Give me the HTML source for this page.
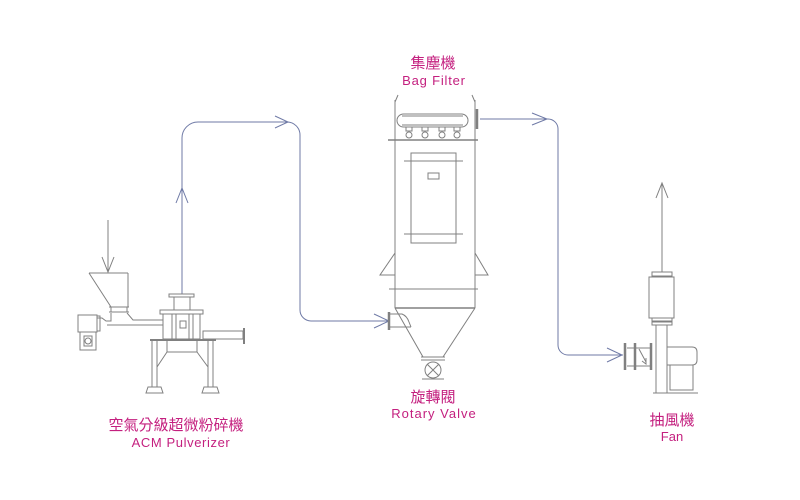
<!DOCTYPE html>
<html><head><meta charset="utf-8"><style>
html,body{margin:0;padding:0;background:#fff;width:800px;height:500px;overflow:hidden}
svg{display:block}
text{font-family:"Liberation Sans","Noto Sans CJK TC",sans-serif;fill:#c4207f}
</style></head><body>
<svg width="800" height="500" viewBox="0 0 800 500" xmlns="http://www.w3.org/2000/svg">
<rect width="800" height="500" fill="#fff"/>
<!-- connectors -->
<g fill="none" stroke="#6f7aa6" stroke-width="1">
<path d="M182,294 V138 A16,16 0 0 1 198,122 H287 A13,13 0 0 1 300,135 V310 A11,11 0 0 0 311,321 H390"/>
<path d="M176,203 L182,188 L188,203"/>
<path d="M275,116 L288,122 L275,128"/>
<path d="M374,314 L389,321 L374,328"/>
<path d="M480,119 H548 A10,10 0 0 1 558,129 V345 A10,10 0 0 0 568,355 H623"/>
<path d="M532,113 L547,119 L532,125"/>
<path d="M607,348 L622,355 L607,362"/>
</g>
<!-- equipment lines -->
<g fill="none" stroke="#808080" stroke-width="1">
<!-- feed arrow -->
<path d="M108,220 V272 M102,257 L108,272 L114,257"/>
<!-- hopper -->
<path d="M89,273 H128 M89,273 L111,307 M128,273 V307"/>
<path d="M109,307 H129 M109,312 H129 M111,307 V312 M127,307 V312"/>
<path d="M127,313 L133,320 H163 M107,325 H163"/>
<path d="M97,318 H102 L106,321 H111 V313"/>
<!-- motor -->
<rect x="78" y="315" width="19" height="17"/>
<rect x="97" y="316" width="3" height="15"/>
<rect x="80" y="332" width="16" height="18"/>
<rect x="84" y="336" width="8" height="10"/>
<circle cx="88" cy="341" r="3"/>
<!-- classifier -->
<rect x="169" y="294" width="25" height="3"/>
<rect x="174" y="297" width="16" height="13"/>
<rect x="160" y="310" width="43" height="4"/>
<rect x="163" y="314" width="37" height="25"/>
<rect x="172" y="314" width="21" height="25"/>
<rect x="180" y="321" width="6" height="7"/>
<path d="M176,314 V339 M189,314 V339"/>
<rect x="203" y="331" width="40" height="8"/>
<path d="M244,328 V344" stroke-width="2"/>
<!-- base -->
<path d="M150,340 H216" stroke-width="2"/>
<path d="M152,341 V387 M157,341 V387 M208,341 V387 M213,341 V387"/>
<path d="M167,341 V352 H197 V341 M167,352 L157,367 M197,352 L208,367"/>
<path d="M146,393 L148,387 H161 L163,393 Z M202,393 L204,387 H217 L219,393 Z"/>
<!-- bag filter -->
<path d="M395,100 V308 M475,100 V308"/>
<path d="M395,102 L398,95 M475,102 L472,95"/>
<rect x="397" y="114" width="71" height="13" rx="6.5"/>
<path d="M402,116 H463 M402,125 H463"/>
<g>
<rect x="406" y="127" width="6" height="4"/><circle cx="409" cy="135" r="3"/>
<rect x="422" y="127" width="6" height="4"/><circle cx="425" cy="135" r="3"/>
<rect x="439" y="127" width="6" height="4"/><circle cx="442" cy="135" r="3"/>
<rect x="454" y="127" width="6" height="4"/><circle cx="457" cy="135" r="3"/>
</g>
<path d="M388,140 H478" stroke-width="1.6"/>
<path d="M477,109 V129" stroke-width="2.5"/>
<rect x="411" y="153" width="45" height="90"/>
<path d="M404,161 H463 M404,234 H463"/>
<rect x="428" y="173" width="11" height="6"/>
<path d="M395,253 L380,275 H395 M475,253 L488,275 H475"/>
<path d="M389,289 H478"/>
<path d="M395,308 H475" stroke-width="1.4"/>
<path d="M395,308 L423,357 M475,308 L443,357"/>
<path d="M389,312 V330" stroke-width="2.5"/>
<path d="M390,314 H402 Q407,316 409,322 L411,327 M390,327 H411"/>
<path d="M421,357 H445 M421,360 H445 M422,379 H444"/>
<circle cx="433" cy="370" r="8"/>
<path d="M427,364 L439,376 M439,364 L427,376"/>
<!-- fan -->
<path d="M662,183 V272 M656,198 L662,183 L668,198"/>
<rect x="652" y="272" width="20" height="4"/>
<rect x="649" y="277" width="25" height="41"/>
<rect x="652" y="318" width="20" height="3"/>
<rect x="652" y="322" width="20" height="3"/>
<path d="M656,325 V393 M667,325 V393"/>
<path d="M625,343 V370 M635,343 V370 M651,343 V370" stroke-width="2.5"/>
<path d="M627,348 H651 M627,366 H651"/>
<path d="M639,349 L646,362 M642,361 L646,364 L646,358"/>
<path d="M667,347 H692 Q697,347 697,352 V360 Q697,365 692,365 H667"/>
<path d="M670,365 V390 H693 V365"/>
<path d="M653,393 H698"/>
</g>
<!-- labels -->
<text x="433" y="68" font-size="15" text-anchor="middle">集塵機</text>
<text x="434" y="85" font-size="13" text-anchor="middle" letter-spacing="0.8">Bag Filter</text>
<text x="433" y="402" font-size="15" text-anchor="middle">旋轉閥</text>
<text x="434" y="418" font-size="13" text-anchor="middle" letter-spacing="1">Rotary Valve</text>
<text x="176" y="430" font-size="15" text-anchor="middle">空氣分級超微粉碎機</text>
<text x="181" y="447" font-size="13" text-anchor="middle" letter-spacing="0.6">ACM Pulverizer</text>
<text x="672" y="425" font-size="15" text-anchor="middle">抽風機</text>
<text x="672" y="441" font-size="13" text-anchor="middle">Fan</text>
</svg>
</body></html>
